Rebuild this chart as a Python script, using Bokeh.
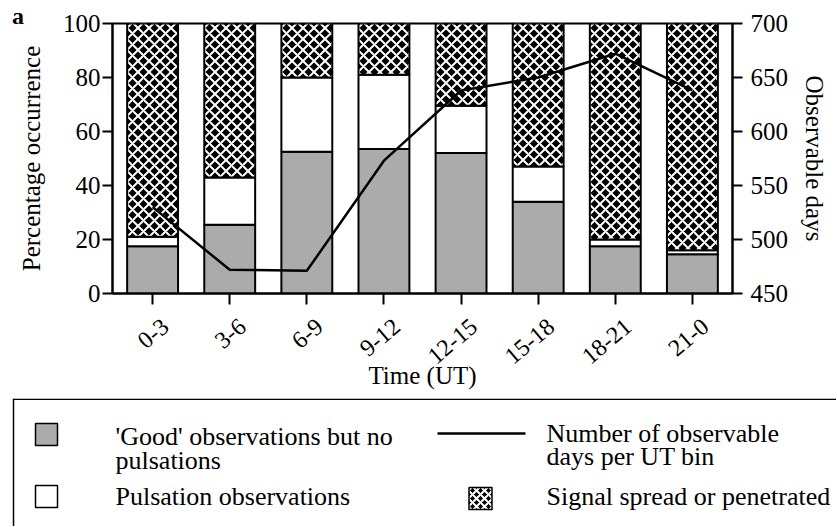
from bokeh.plotting import figure
from bokeh.models import Range1d, LinearAxis, FixedTicker, ColumnDataSource, Div
from bokeh.embed import file_html
from bokeh.resources import INLINE
from bokeh.core.properties import value

# ---- data ----
ut_bins = ["0-3", "3-6", "6-9", "9-12", "12-15", "15-18", "18-21", "21-0"]
good_pct = [17.5, 25.5, 52.5, 53.5, 52.0, 34.0, 17.5, 14.5]
pulsation_pct = [3.5, 17.5, 27.5, 27.5, 17.5, 13.0, 2.5, 1.5]
signal_pct = [79.0, 57.0, 20.0, 19.0, 30.5, 53.0, 80.0, 84.0]
observable_days = [530, 472, 471, 573, 638, 650, 672, 638]
left_ticks = [0, 20, 40, 60, 80, 100]
right_ticks = [450, 500, 550, 600, 650, 700]

FONT = "'Liberation Serif', 'Times New Roman', Times, serif"
GRAY = "#ababab"
LABEL_SHIFT = 0.17   # rotated labels end a little right of their tick
LABEL_ANGLE = 0.70   # radians

src = ColumnDataSource(dict(
    x=list(range(len(ut_bins))),
    good=good_pct,
    puls=pulsation_pct,
    signal=signal_pct,
    days=observable_days,
))

p = figure(width=836, height=398, x_range=Range1d(-0.52, 7.52), y_range=Range1d(0, 100),
           output_backend="svg", toolbar_location=None,
           min_border_left=112, min_border_right=104, min_border_top=23, min_border_bottom=105)
p.grid.visible = False
p.outline_line_color = "black"
p.outline_line_width = 2
p.extra_y_ranges = {"days": Range1d(450, 700)}

p.vbar_stack(["good", "puls", "signal"], x="x", width=0.66, source=src,
             fill_color=[GRAY, "white", "black"], line_color="black", line_width=2,
             hatch_pattern=[" ", " ", "diagonal_cross"], hatch_color="white",
             hatch_weight=2, hatch_scale=11)
p.line(x="x", y="days", source=src, y_range_name="days", line_color="black", line_width=2.5)

def style_axis(ax):
    ax.axis_line_width = 2
    ax.major_tick_line_width = 2
    ax.major_tick_out = 10
    ax.major_tick_in = 0
    ax.minor_tick_line_color = None
    ax.major_label_text_font = FONT
    ax.major_label_text_font_size = "25px"
    ax.major_label_text_color = "black"
    ax.axis_label_text_font = FONT
    ax.axis_label_text_font_size = "25px"
    ax.axis_label_text_font_style = "normal"
    ax.axis_label_text_color = "black"

ya = p.yaxis[0]
ya.ticker = FixedTicker(ticks=left_ticks)
ya.axis_label = "Percentage occurrence"
style_axis(ya)
ya.major_label_standoff = 2
ya.axis_label_standoff = 15

ra = LinearAxis(y_range_name="days", ticker=FixedTicker(ticks=right_ticks),
                axis_label="Observable days")
style_axis(ra)
ra.major_label_standoff = 8
ra.axis_label_standoff = 10
p.add_layout(ra, "right")

# bottom axis 1: tick marks at bar centres
xa = p.xaxis[0]
xa.ticker = FixedTicker(ticks=list(range(len(ut_bins))))
style_axis(xa)
xa.major_tick_out = 11
xa.major_label_text_font_size = "0px"
xa.major_label_text_color = None
xa.major_label_standoff = 0

# bottom axis 2: rotated UT-bin labels and axis title
label_ticks = [i + LABEL_SHIFT for i in range(len(ut_bins))]
xb = LinearAxis(ticker=FixedTicker(ticks=label_ticks),
                major_label_overrides={t: lab for t, lab in zip(label_ticks, ut_bins)},
                axis_label="Time (UT)")
style_axis(xb)
xb.axis_line_color = None
xb.major_tick_line_color = None
xb.major_tick_out = 0
xb.major_label_text_font_size = "24px"
xb.major_label_orientation = LABEL_ANGLE
xb.major_label_standoff = 19
xb.axis_label_standoff = -12
p.add_layout(xb, "below")

# ---- legend panel ----
q = figure(width=836, height=128, x_range=Range1d(0, 836), y_range=Range1d(0, 128),
           output_backend="svg", toolbar_location=None, min_border=0,
           x_axis_location=None, y_axis_location=None)
q.grid.visible = False
q.outline_line_color = None

q.segment(x0=[13, 13], y0=[0, 127.3], x1=[13, 836], y1=[128, 127.3], line_color="black", line_width=1.5)
q.rect(x=[46], y=[92], width=22, height=22, fill_color=GRAY, line_color="black", line_width=1.5)
q.rect(x=[46], y=[30], width=22, height=22, fill_color="white", line_color="black", line_width=1.5)
q.segment(x0=[437], y0=[93], x1=[525], y1=[93], line_color="black", line_width=2.5)
q.rect(x=[480], y=[28], width=23, height=22, fill_color="black", line_color="black", line_width=1.5,
       hatch_pattern="diagonal_cross", hatch_color="white", hatch_weight=2, hatch_scale=8)

txt = dict(text_font=value(FONT), text_font_size=value("26px"), text_color="black",
           text_align="left", text_baseline="middle", text_line_height=0.8)
q.text(x=[115, 115, 546, 546],
       y=[78, 30, 81.5, 30],
       text=["'Good' observations but no\npulsations", "Pulsation observations",
             "Number of observable\ndays per UT bin", "Signal spread or penetrated"], **txt)

panel_tag = Div(text="a", styles={"position": "absolute", "left": "12px", "top": "4px",
                                  "font-family": "'Liberation Serif', serif",
                                  "font-size": "24px", "font-weight": "bold",
                                  "line-height": "24px", "margin": "0", "padding": "0"})

open("out.html", "w").write(file_html([p, q, panel_tag], INLINE))
